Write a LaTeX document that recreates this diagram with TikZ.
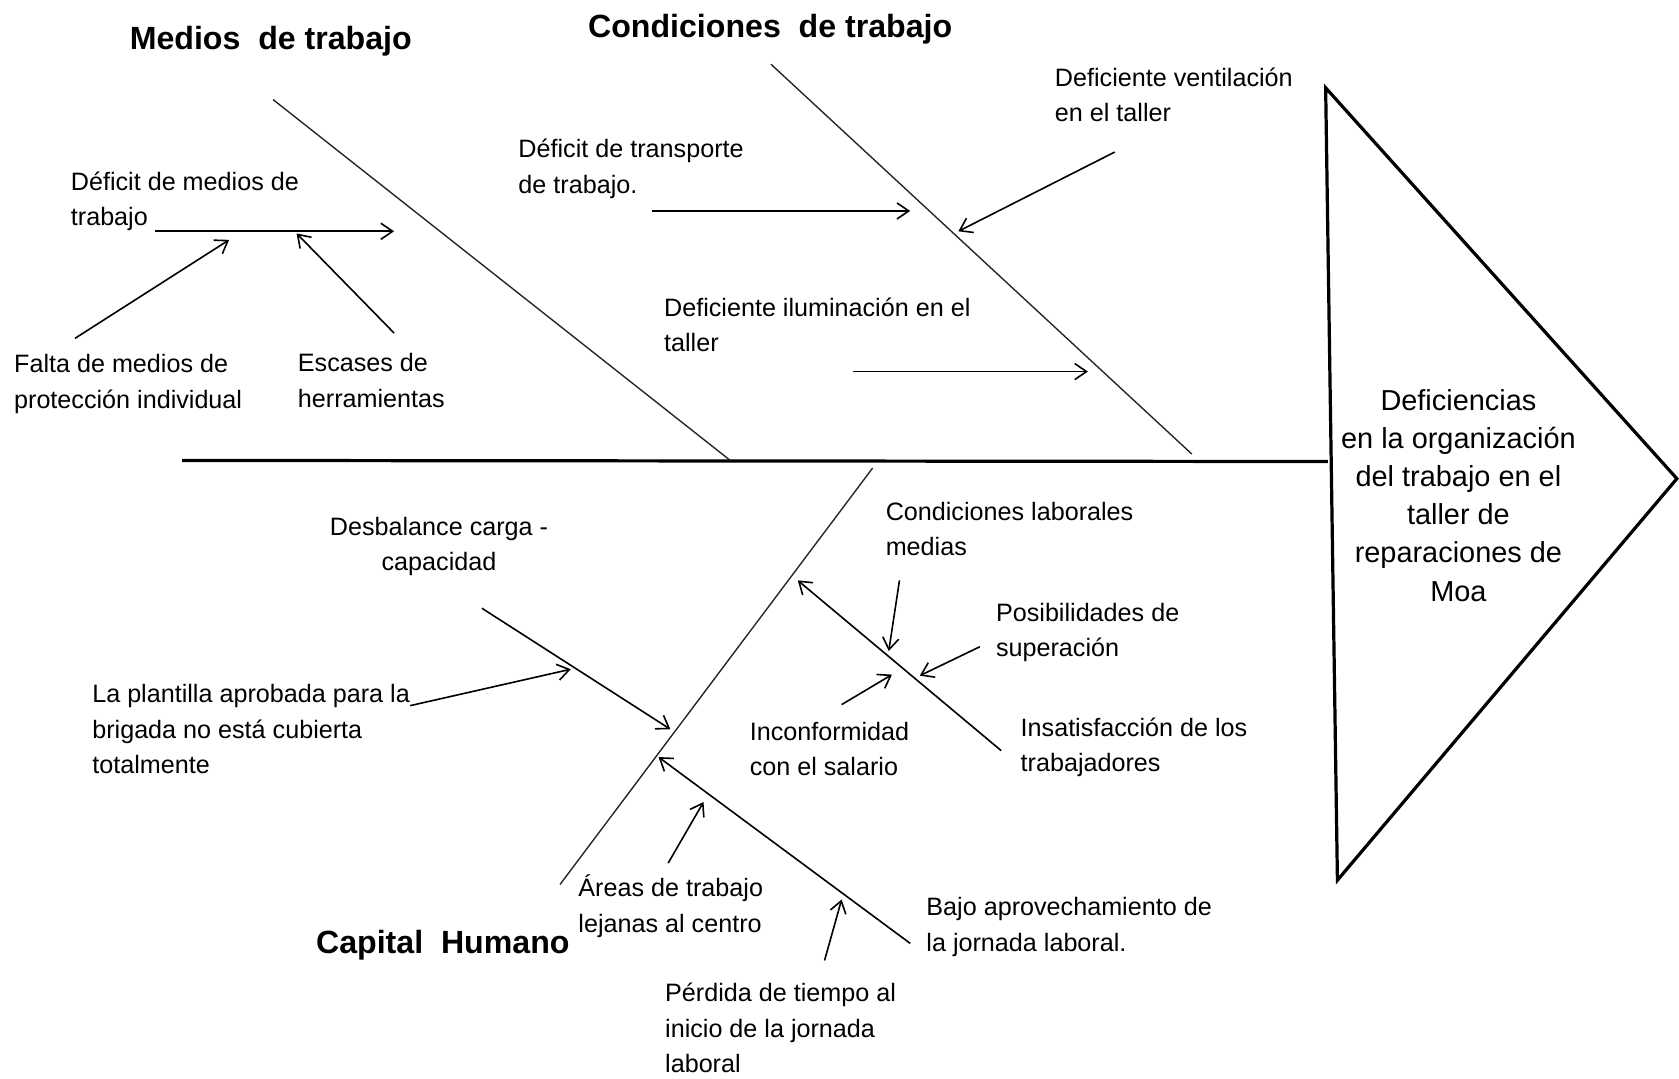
\documentclass[tikz,border=0pt]{standalone}
\usepackage{fontspec}
\setmainfont{Liberation Sans}
\usetikzlibrary{arrows.meta}

\begin{document}
\begin{tikzpicture}[x=1pt,y=-1pt,
    >={Straight Barb[length=11pt,width=15pt]},
    texto/.style={font=\fontsize{23.5}{33}\selectfont,inner sep=0pt,align=left,anchor=north west},
    titulo/.style={font=\fontsize{30}{36}\selectfont\bfseries,inner sep=0pt,anchor=base west},
    espina/.style={line width=1.3pt,black!85},
    flecha/.style={->,line width=1.5pt}]

    \useasboundingbox (0,0) rectangle (1568,1007);

    % cabeza y espina central
    \draw[line width=3pt,line join=miter] (1238,82) -- (1566,447) -- (1249,822) -- cycle;
    \node[font=\fontsize{27}{35.5}\selectfont,align=center,inner sep=0pt,anchor=north] (efecto) at (1362,364)
        {Deficiencias\\en la organización\\del trabajo en el\\taller de\\reparaciones de\\Moa};
    \coordinate (cola) at (170,430);
    \coordinate (cabeza) at (1240,431);
    \draw[line width=3pt] (cola) -- (cabeza);

    % espinas principales
    \coordinate (med1) at (255,93);   \coordinate (med2) at (682,430);
    \coordinate (con1) at (720,60);   \coordinate (con2) at (1113,424);
    \coordinate (cap1) at (815,437);  \coordinate (cap2) at (523,826);
    \draw[espina] (med1) -- (med2);
    \draw[espina] (con1) -- (con2);
    \draw[espina] (cap1) -- (cap2);

    \node[titulo] (medios) at (121,46) {Medios\ \ de trabajo};
    \node[titulo] (condic) at (549,35) {Condiciones\ \ de trabajo};
    \node[titulo] (capital) at (295,890) {Capital\ \ Humano};

    % medios de trabajo
    \node[texto] (defmed) at (66,160) {Déficit de medios de\\trabajo};
    \node[texto] (falta) at (13,331) {Falta de medios de\\protección individual};
    \node[texto] (escases) at (278,330) {Escases de\\herramientas};
    \coordinate (dm1) at (145,216);  \coordinate (dm2) at (368,216);
    \coordinate (fa1) at (70,316);   \coordinate (fa2) at (214,224);
    \coordinate (es1) at (368,311);  \coordinate (es2) at (277,218);
    \draw[flecha] (dm1) -- (dm2);
    \draw[flecha] (fa1) -- (fa2);
    \draw[flecha] (es1) -- (es2);

    % condiciones de trabajo
    \node[texto] (transp) at (484,130) {Déficit de transporte\\de trabajo.};
    \node[texto] (ventil) at (985,63) {Deficiente ventilación\\en el taller};
    \node[texto] (ilum) at (620,278) {Deficiente iluminación en el\\taller};
    \coordinate (tr1) at (609,197);  \coordinate (tr2) at (850,197);
    \coordinate (ve1) at (1041,142); \coordinate (ve2) at (895,216);
    \coordinate (il1) at (797,347);  \coordinate (il2) at (1016,347);
    \draw[flecha] (tr1) -- (tr2);
    \draw[flecha] (ve1) -- (ve2);
    \draw[flecha] (il1) -- (il2);

    % capital humano
    \node[texto,align=center,anchor=north] (desbal) at (410,483) {Desbalance carga -\\capacidad};
    \node[texto] (plantilla) at (86,639) {La plantilla aprobada para la\\brigada no está cubierta\\totalmente};
    \node[texto] (condlab) at (827,469) {Condiciones laborales\\medias};
    \node[texto] (posib) at (930,563) {Posibilidades de\\superación};
    \node[texto] (inconf) at (700,674) {Inconformidad\\con el salario};
    \node[texto] (insat) at (953,670) {Insatisfacción de los\\trabajadores};
    \node[texto] (areas) at (540,817) {Áreas de trabajo\\lejanas al centro};
    \node[texto] (bajo) at (865,838) {Bajo aprovechamiento de\\la jornada laboral.};
    \node[texto] (perdida) at (621,918) {Pérdida de tiempo al\\inicio de la jornada\\laboral};

    \coordinate (de1) at (450,568);  \coordinate (de2) at (626,681);
    \coordinate (pl1) at (383,659);  \coordinate (pl2) at (533,625);
    \coordinate (in1) at (935,701);  \coordinate (in2) at (745,542);
    \coordinate (cl1) at (840,542);  \coordinate (cl2) at (830,608);
    \coordinate (po1) at (915,604);  \coordinate (po2) at (859,631);
    \coordinate (ic1) at (786,658);  \coordinate (ic2) at (833,630);
    \coordinate (ba1) at (850,881);  \coordinate (ba2) at (615,707);
    \coordinate (ar1) at (624,806);  \coordinate (ar2) at (657,749);
    \coordinate (pe1) at (770,897);  \coordinate (pe2) at (786,840);
    \draw[flecha] (de1) -- (de2);
    \draw[flecha] (pl1) -- (pl2);
    \draw[flecha] (in1) -- (in2);
    \draw[flecha] (cl1) -- (cl2);
    \draw[flecha] (po1) -- (po2);
    \draw[flecha] (ic1) -- (ic2);
    \draw[flecha] (ba1) -- (ba2);
    \draw[flecha] (ar1) -- (ar2);
    \draw[flecha] (pe1) -- (pe2);
\end{tikzpicture}
\end{document}
